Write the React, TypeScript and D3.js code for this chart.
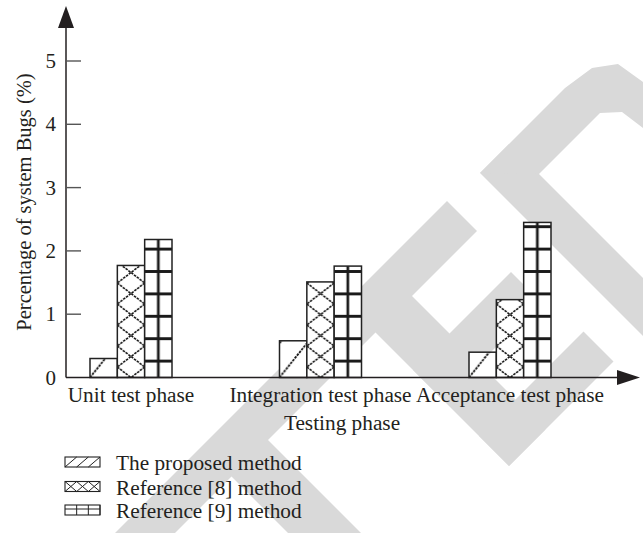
import { useRef, useEffect } from "react";
import * as d3 from "d3";

const categories = ["Unit test phase", "Integration test phase", "Acceptance test phase"];
const seriesNames = ["The proposed method", "Reference [8] method", "Reference [9] method"];
const proposedValues = [0.3, 0.58, 0.4];
const ref8Values = [1.77, 1.51, 1.23];
const ref9Values = [2.18, 1.76, 2.45];
const yTicks = [0, 1, 2, 3, 4, 5];

// watermark bands in rotated coords: [x-y min, x-y max, x+y min, x+y max]
const watermarkBands = [
  [-700, 246, 648, 708],
  [-245, -172, 700, 1300],
  [43, 116, 700, 975],
  [43, 239, 783, 843],
  [43, 252, 915, 975],
  [307, 365, 653, 1400],
];
const watermarkD = [
  [480, 173], [565, 88], [592, 68], [618, 64], [643, 82],
  [643, 128], [622, 112], [600, 113], [539, 174],
];

const FONT = "'Liberation Serif', 'Times New Roman', serif";
const INK = "#231f20";

const App = () => {
  const svgRef = useRef<SVGSVGElement | null>(null);

  useEffect(() => {
    if (!svgRef.current) return;
    d3.select(svgRef.current).selectAll("*").remove();
    const svg = d3.select(svgRef.current);
    const defs = svg.append("defs");

    const axisX = 66;
    const y = d3.scaleLinear().domain([0, 5]).range([377.5, 61]);
    const y0 = y(0);
    const x = d3.scalePoint<string>().domain(categories).range([131, 510]);
    const keys = ["proposed", "ref8", "ref9"];
    const xSub = d3.scaleBand<string>().domain(keys).range([-41, 41]).padding(0);
    const bw = xSub.bandwidth();

    const series = [
      { key: "proposed", name: seriesNames[0], values: proposedValues },
      { key: "ref8", name: seriesNames[1], values: ref8Values },
      { key: "ref9", name: seriesNames[2], values: ref9Values },
    ];

    // Watermark
    const wm = svg.append("g").attr("fill", "#d9d9d9");
    watermarkBands.forEach(([a0, a1, b0, b1]) => {
      const pts = [[a0, b0], [a1, b0], [a1, b1], [a0, b1]]
        .map(([a, b]) => `${(a + b) / 2},${(b - a) / 2}`).join(" ");
      wm.append("polygon").attr("points", pts);
    });
    wm.append("polygon").attr("points", watermarkD.map(p => p.join(",")).join(" "));

    // Patterns
    const makePattern = (id: string, kind: string, px: number, w: number) => {
      if (kind === "proposed") {
        const h = w * 1.25;
        const p = defs.append("pattern").attr("id", id).attr("patternUnits", "userSpaceOnUse")
          .attr("x", px).attr("y", y0).attr("width", w).attr("height", h);
        p.append("path").attr("d", `M0,${h} L${w},0`)
          .attr("stroke", "#111").attr("stroke-width", 1.8).attr("stroke-dasharray", "2.5 1");
      } else if (kind === "ref8") {
        const h = 21;
        const p = defs.append("pattern").attr("id", id).attr("patternUnits", "userSpaceOnUse")
          .attr("x", px).attr("y", y0 - h / 2).attr("width", w).attr("height", h);
        p.append("path").attr("d", `M0,0 L${w},${h} M${w},0 L0,${h}`)
          .attr("stroke", "#111").attr("stroke-width", 1.6).attr("stroke-dasharray", "2.5 1");
      } else {
        const h = 22.4;
        const p = defs.append("pattern").attr("id", id).attr("patternUnits", "userSpaceOnUse")
          .attr("x", px).attr("y", y0 - 16.4 - h / 2).attr("width", w).attr("height", h);
        p.append("path").attr("d", `M0,${h / 2} L${w},${h / 2} M${w / 2},0 L${w / 2},${h}`)
          .attr("stroke", "#1a1a1a").attr("stroke-width", 2.7);
      }
    };

    // Bars
    const bars = svg.append("g");
    series.forEach(s => {
      s.values.forEach((v, i) => {
        const bx = (x(categories[i]) ?? 0) + (xSub(s.key) ?? 0);
        const id = `pat-${s.key}-${i}`;
        makePattern(id, s.key, bx, bw);
        bars.append("rect").attr("x", bx).attr("y", y(v)).attr("width", bw)
          .attr("height", y0 - y(v)).attr("fill", "#fff");
        bars.append("rect").attr("x", bx).attr("y", y(v)).attr("width", bw)
          .attr("height", y0 - y(v)).attr("fill", `url(#${id})`)
          .attr("stroke", "#222").attr("stroke-width", 1.5);
      });
    });

    // Axes
    const axes = svg.append("g").attr("stroke", INK);
    axes.append("line").attr("x1", axisX).attr("x2", axisX).attr("y1", y0).attr("y2", 26)
      .attr("stroke-width", 1.5);
    axes.append("path").attr("d", `M${axisX},6 L${axisX - 8},28 L${axisX + 8},28 Z`)
      .attr("fill", INK).attr("stroke", "none");
    axes.append("line").attr("x1", axisX).attr("x2", 618).attr("y1", y0).attr("y2", y0)
      .attr("stroke-width", 1.5);
    axes.append("path").attr("d", `M640,${y0} L617,${y0 - 7.5} L617,${y0 + 7.5} Z`)
      .attr("fill", INK).attr("stroke", "none");

    yTicks.filter(t => t > 0).forEach(t => {
      axes.append("line").attr("x1", axisX).attr("x2", axisX + 15)
        .attr("y1", y(t)).attr("y2", y(t)).attr("stroke", "#555").attr("stroke-width", 1.4);
    });

    const txt = svg.append("g").attr("font-family", FONT).attr("fill", INK);
    yTicks.forEach(t => {
      txt.append("text").attr("x", 56).attr("y", y(t) + 7).attr("text-anchor", "end")
        .attr("font-size", 21).text(t);
    });
    categories.forEach(c => {
      txt.append("text").attr("x", x(c) ?? 0).attr("y", 402).attr("text-anchor", "middle")
        .attr("font-size", 21.3).text(c);
    });
    txt.append("text").attr("x", 342).attr("y", 430).attr("text-anchor", "middle")
      .attr("font-size", 21.3).text("Testing phase");
    txt.append("text").attr("transform", `translate(31,202) rotate(-90)`)
      .attr("text-anchor", "middle").attr("font-size", 20.5)
      .text("Percentage of system Bugs (%)");

    // Legend
    const legend = svg.append("g");
    const lx = 65, lw = 35, lh = 10;
    const rowY = [457, 481.5, 505];
    series.forEach((s, i) => {
      const ly = rowY[i];
      const cw = lw / 3;
      const g = legend.append("g");
      g.append("rect").attr("x", lx).attr("y", ly).attr("width", lw).attr("height", lh)
        .attr("fill", "#fff").attr("stroke", "#222").attr("stroke-width", 1.1);
      let d = "";
      for (let k = 0; k < 3; k++) {
        const cx = lx + k * cw;
        if (s.key === "proposed") d += `M${cx},${ly + lh} L${cx + cw},${ly} `;
        else if (s.key === "ref8") d += `M${cx},${ly} L${cx + cw},${ly + lh} M${cx + cw},${ly} L${cx},${ly + lh} `;
        else d += `M${cx + cw},${ly} L${cx + cw},${ly + lh} `;
      }
      if (s.key === "ref9") d += `M${lx},${ly + lh * 0.4} L${lx + lw},${ly + lh * 0.4}`;
      g.append("path").attr("d", d).attr("stroke", "#222").attr("stroke-width", 1)
        .attr("fill", "none");
      txt.append("text").attr("x", 116).attr("y", ly + 13).attr("font-size", 21.3).text(s.name);
    });
  }, []);

  return (
    <div style={{ position: "absolute", left: 0, top: 0 }}>
      <svg ref={svgRef} width={643} height={533} style={{ display: "block" }}></svg>
    </div>
  );
};

export default App;
